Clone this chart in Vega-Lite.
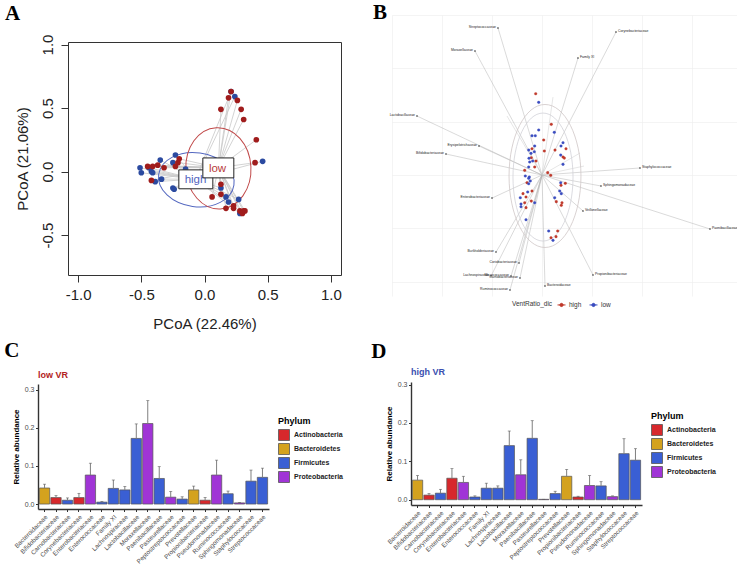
{
  "$schema": "https://vega.github.io/schema/vega-lite/v6.json",
  "padding": {"left": 3, "top": 0, "right": 0, "bottom": 0},
  "background": "white",
  "config": {"view": {"stroke": null}, "font": "Liberation Sans"},
  "datasets": {
    "pa": [
      {"x": 0.21, "y": 0.63, "grp": "high", "cx": -0.07, "cy": -0.06},
      {"x": 0.24, "y": 0.59, "grp": "high", "cx": -0.07, "cy": -0.06},
      {"x": 0.46, "y": 0.08, "grp": "high", "cx": -0.07, "cy": -0.06},
      {"x": -0.51, "y": 0.03, "grp": "high", "cx": -0.07, "cy": -0.06},
      {"x": -0.5, "y": -0.01, "grp": "high", "cx": -0.07, "cy": -0.06},
      {"x": -0.44, "y": 0.03, "grp": "high", "cx": -0.07, "cy": -0.06},
      {"x": -0.42, "y": 0.0, "grp": "high", "cx": -0.07, "cy": -0.06},
      {"x": -0.41, "y": -0.01, "grp": "high", "cx": -0.07, "cy": -0.06},
      {"x": -0.35, "y": 0.09, "grp": "high", "cx": -0.07, "cy": -0.06},
      {"x": -0.34, "y": -0.06, "grp": "high", "cx": -0.07, "cy": -0.06},
      {"x": -0.39, "y": -0.08, "grp": "high", "cx": -0.07, "cy": -0.06},
      {"x": -0.25, "y": 0.07, "grp": "high", "cx": -0.07, "cy": -0.06},
      {"x": -0.23, "y": 0.13, "grp": "high", "cx": -0.07, "cy": -0.06},
      {"x": -0.25, "y": -0.13, "grp": "high", "cx": -0.07, "cy": -0.06},
      {"x": -0.24, "y": -0.14, "grp": "high", "cx": -0.07, "cy": -0.06},
      {"x": 0.13, "y": -0.13, "grp": "high", "cx": -0.07, "cy": -0.06},
      {"x": 0.17, "y": -0.2, "grp": "high", "cx": -0.07, "cy": -0.06},
      {"x": 0.19, "y": -0.24, "grp": "high", "cx": -0.07, "cy": -0.06},
      {"x": 0.27, "y": -0.22, "grp": "high", "cx": -0.07, "cy": -0.06},
      {"x": 0.28, "y": -0.33, "grp": "high", "cx": -0.07, "cy": -0.06},
      {"x": -0.15, "y": 0.02, "grp": "high", "cx": -0.07, "cy": -0.06},
      {"x": 0.21, "y": 0.63, "grp": "low", "cx": 0.11, "cy": 0.03},
      {"x": 0.19, "y": 0.58, "grp": "low", "cx": 0.11, "cy": 0.03},
      {"x": 0.26, "y": 0.56, "grp": "low", "cx": 0.11, "cy": 0.03},
      {"x": 0.13, "y": 0.49, "grp": "low", "cx": 0.11, "cy": 0.03},
      {"x": 0.29, "y": 0.49, "grp": "low", "cx": 0.11, "cy": 0.03},
      {"x": 0.31, "y": 0.41, "grp": "low", "cx": 0.11, "cy": 0.03},
      {"x": 0.41, "y": 0.25, "grp": "low", "cx": 0.11, "cy": 0.03},
      {"x": 0.4, "y": 0.07, "grp": "low", "cx": 0.11, "cy": 0.03},
      {"x": -0.45, "y": 0.04, "grp": "low", "cx": 0.11, "cy": 0.03},
      {"x": -0.41, "y": 0.04, "grp": "low", "cx": 0.11, "cy": 0.03},
      {"x": -0.37, "y": 0.05, "grp": "low", "cx": 0.11, "cy": 0.03},
      {"x": -0.32, "y": 0.03, "grp": "low", "cx": 0.11, "cy": 0.03},
      {"x": -0.23, "y": 0.04, "grp": "low", "cx": 0.11, "cy": 0.03},
      {"x": -0.21, "y": 0.07, "grp": "low", "cx": 0.11, "cy": 0.03},
      {"x": -0.2, "y": 0.1, "grp": "low", "cx": 0.11, "cy": 0.03},
      {"x": -0.42, "y": -0.07, "grp": "low", "cx": 0.11, "cy": 0.03},
      {"x": 0.13, "y": -0.18, "grp": "low", "cx": 0.11, "cy": 0.03},
      {"x": 0.06, "y": -0.2, "grp": "low", "cx": 0.11, "cy": 0.03},
      {"x": 0.13, "y": -0.1, "grp": "low", "cx": 0.11, "cy": 0.03},
      {"x": 0.17, "y": -0.29, "grp": "low", "cx": 0.11, "cy": 0.03},
      {"x": 0.23, "y": -0.29, "grp": "low", "cx": 0.11, "cy": 0.03},
      {"x": 0.23, "y": -0.27, "grp": "low", "cx": 0.11, "cy": 0.03},
      {"x": 0.28, "y": -0.31, "grp": "low", "cx": 0.11, "cy": 0.03},
      {"x": 0.31, "y": -0.31, "grp": "low", "cx": 0.11, "cy": 0.03},
      {"x": 0.3, "y": -0.33, "grp": "low", "cx": 0.11, "cy": 0.03},
      {"x": 0.32, "y": -0.31, "grp": "low", "cx": 0.11, "cy": 0.03}
    ],
    "ea": [
      {"grp": "high", "x": -0.065, "y": -0.065},
      {"grp": "low", "x": 0.11, "y": 0.025}
    ],
    "boxa": [
      {"grp": "high", "x1": -0.203, "x2": 0.066, "y1": -0.136, "y2": 0.013, "tx": -0.071, "ty": -0.063, "lab": "high"},
      {"grp": "low", "x1": -0.013, "x2": 0.232, "y1": -0.05, "y2": 0.107, "tx": 0.103, "ty": 0.018, "lab": "low"}
    ],
    "arr": [
      {"name": "Streptococcaceae", "x": -0.44, "y": 1.378},
      {"name": "Moraxellaceae", "x": -0.67, "y": 1.162},
      {"name": "Corynebacteriaceae", "x": 0.74, "y": 1.34},
      {"name": "Family XI", "x": 0.36, "y": 1.097},
      {"name": "Lactobacillaceae", "x": -1.25, "y": 0.553},
      {"name": "Erysipelotrichaceae", "x": -0.63, "y": 0.272},
      {"name": "Bifidobacteriaceae", "x": -0.96, "y": 0.197},
      {"name": "Staphylococcaceae", "x": 0.98, "y": 0.066},
      {"name": "Sphingomonadaceae", "x": 0.59, "y": -0.103},
      {"name": "Enterobacteriaceae", "x": -0.5, "y": -0.216},
      {"name": "Veillonellaceae", "x": 0.41, "y": -0.337},
      {"name": "Paenibacillaceae", "x": 1.68, "y": -0.506},
      {"name": "Burkholderiaceae", "x": -0.46, "y": -0.722},
      {"name": "Coriobacteriaceae", "x": -0.23, "y": -0.825},
      {"name": "Propionibacteriaceae", "x": 0.51, "y": -0.937},
      {"name": "Lachnospiraceae", "x": -0.51, "y": -0.947},
      {"name": "Micrococcaceae", "x": -0.31, "y": -0.947},
      {"name": "Carnobacteriaceae", "x": -0.22, "y": -0.965},
      {"name": "Bacteroidaceae", "x": 0.03, "y": -1.04},
      {"name": "Ruminococcaceae", "x": -0.32, "y": -1.078}
    ],
    "ray": [
      {"x": 0.11, "y": 0.731},
      {"x": 0.38, "y": 0.206},
      {"x": 0.42, "y": 0.084},
      {"x": -0.35, "y": 0.553}
    ],
    "eb": [
      {"e": "1", "x": 0.03, "y": -0.009},
      {"e": "2", "x": 0.01, "y": -0.019}
    ],
    "pb": [
      {"x": -0.063, "y": 0.762, "grp": "high"}, {"x": 0.093, "y": 0.475, "grp": "high"},
      {"x": 0.017, "y": 0.328, "grp": "high"}, {"x": 0.24, "y": 0.246, "grp": "high"},
      {"x": -0.1, "y": 0.246, "grp": "high"}, {"x": 0.023, "y": 0.225, "grp": "high"},
      {"x": 0.13, "y": 0.234, "grp": "high"}, {"x": 0.21, "y": 0.169, "grp": "high"},
      {"x": 0.223, "y": 0.159, "grp": "high"}, {"x": -0.107, "y": 0.162, "grp": "high"},
      {"x": -0.06, "y": 0.131, "grp": "high"}, {"x": -0.073, "y": 0.075, "grp": "high"},
      {"x": -0.173, "y": 0.044, "grp": "high"}, {"x": 0.057, "y": 0.022, "grp": "high"},
      {"x": 0.087, "y": -0.003, "grp": "high"}, {"x": -0.15, "y": -0.072, "grp": "high"},
      {"x": 0.233, "y": -0.078, "grp": "high"}, {"x": 0.19, "y": -0.097, "grp": "high"},
      {"x": -0.19, "y": -0.175, "grp": "high"}, {"x": -0.16, "y": -0.206, "grp": "high"},
      {"x": -0.173, "y": -0.26, "grp": "high"}, {"x": 0.143, "y": -0.25, "grp": "high"},
      {"x": -0.107, "y": -0.244, "grp": "high"}, {"x": 0.2, "y": -0.26, "grp": "high"},
      {"x": -0.16, "y": -0.306, "grp": "high"}, {"x": 0.193, "y": -0.284, "grp": "high"},
      {"x": 0.157, "y": -0.525, "grp": "high"}, {"x": 0.09, "y": -0.588, "grp": "high"},
      {"x": 0.14, "y": -0.578, "grp": "high"}, {"x": -0.1, "y": -0.15, "grp": "high"},
      {"x": -0.033, "y": 0.681, "grp": "low"}, {"x": 0.123, "y": 0.4, "grp": "low"},
      {"x": -0.033, "y": 0.422, "grp": "low"}, {"x": -0.1, "y": 0.368, "grp": "low"},
      {"x": -0.067, "y": 0.368, "grp": "low"}, {"x": 0.21, "y": 0.303, "grp": "low"},
      {"x": 0.19, "y": 0.272, "grp": "low"}, {"x": -0.133, "y": 0.234, "grp": "low"},
      {"x": -0.073, "y": 0.272, "grp": "low"}, {"x": -0.077, "y": 0.218, "grp": "low"},
      {"x": -0.11, "y": 0.203, "grp": "low"}, {"x": 0.187, "y": 0.187, "grp": "low"},
      {"x": -0.13, "y": 0.157, "grp": "low"}, {"x": 0.21, "y": 0.1, "grp": "low"},
      {"x": -0.093, "y": 0.131, "grp": "low"}, {"x": -0.123, "y": 0.122, "grp": "low"},
      {"x": -0.133, "y": 0.075, "grp": "low"}, {"x": -0.167, "y": -0.009, "grp": "low"},
      {"x": -0.127, "y": -0.019, "grp": "low"}, {"x": -0.133, "y": -0.031, "grp": "low"},
      {"x": -0.117, "y": -0.056, "grp": "low"}, {"x": -0.133, "y": -0.082, "grp": "low"},
      {"x": 0.187, "y": -0.072, "grp": "low"}, {"x": -0.143, "y": -0.159, "grp": "low"},
      {"x": 0.177, "y": -0.15, "grp": "low"}, {"x": 0.193, "y": -0.175, "grp": "low"},
      {"x": -0.217, "y": -0.213, "grp": "low"}, {"x": -0.21, "y": -0.272, "grp": "low"},
      {"x": 0.127, "y": -0.213, "grp": "low"}, {"x": -0.073, "y": -0.26, "grp": "low"},
      {"x": -0.21, "y": -0.297, "grp": "low"}, {"x": -0.16, "y": -0.419, "grp": "low"},
      {"x": 0.067, "y": -0.525, "grp": "low"}, {"x": 0.11, "y": -0.612, "grp": "low"}
    ],
    "low": [
      {"family": "Bacteroidaceae", "phylum": "Bacteroidetes", "mean": 0.042, "upper": 0.052},
      {"family": "Bifidobacteriaceae", "phylum": "Actinobacteria", "mean": 0.017, "upper": 0.022},
      {"family": "Carnobacteriaceae", "phylum": "Firmicutes", "mean": 0.01, "upper": 0.016},
      {"family": "Corynebacteriaceae", "phylum": "Actinobacteria", "mean": 0.017, "upper": 0.028},
      {"family": "Enterobacteriaceae", "phylum": "Proteobacteria", "mean": 0.076, "upper": 0.107},
      {"family": "Enterococcaceae", "phylum": "Firmicutes", "mean": 0.005, "upper": 0.007},
      {"family": "Family XI", "phylum": "Firmicutes", "mean": 0.041, "upper": 0.063},
      {"family": "Lachnospiraceae", "phylum": "Firmicutes", "mean": 0.037, "upper": 0.046},
      {"family": "Lactobacillaceae", "phylum": "Firmicutes", "mean": 0.172, "upper": 0.21},
      {"family": "Moraxellaceae", "phylum": "Proteobacteria", "mean": 0.211, "upper": 0.271},
      {"family": "Paenibacillaceae", "phylum": "Firmicutes", "mean": 0.067, "upper": 0.098},
      {"family": "Pasteurellaceae", "phylum": "Proteobacteria", "mean": 0.018, "upper": 0.033},
      {"family": "Peptostreptococcaceae", "phylum": "Firmicutes", "mean": 0.013, "upper": 0.019},
      {"family": "Prevotellaceae", "phylum": "Bacteroidetes", "mean": 0.037, "upper": 0.047},
      {"family": "Propionibacteriaceae", "phylum": "Actinobacteria", "mean": 0.01, "upper": 0.017},
      {"family": "Pseudomonadaceae", "phylum": "Proteobacteria", "mean": 0.076, "upper": 0.115},
      {"family": "Ruminococcaceae", "phylum": "Firmicutes", "mean": 0.027, "upper": 0.034},
      {"family": "Sphingomonadaceae", "phylum": "Proteobacteria", "mean": 0.003, "upper": 0.004},
      {"family": "Staphylococcaceae", "phylum": "Firmicutes", "mean": 0.06, "upper": 0.089},
      {"family": "Streptococcaceae", "phylum": "Firmicutes", "mean": 0.07, "upper": 0.094}
    ],
    "high": [
      {"family": "Bacteroidaceae", "phylum": "Bacteroidetes", "mean": 0.051, "upper": 0.063},
      {"family": "Bifidobacteriaceae", "phylum": "Actinobacteria", "mean": 0.012, "upper": 0.016},
      {"family": "Carnobacteriaceae", "phylum": "Firmicutes", "mean": 0.017, "upper": 0.027},
      {"family": "Corynebacteriaceae", "phylum": "Actinobacteria", "mean": 0.056, "upper": 0.081},
      {"family": "Enterobacteriaceae", "phylum": "Proteobacteria", "mean": 0.045, "upper": 0.061},
      {"family": "Enterococcaceae", "phylum": "Firmicutes", "mean": 0.007, "upper": 0.01},
      {"family": "Family XI", "phylum": "Firmicutes", "mean": 0.03, "upper": 0.043},
      {"family": "Lachnospiraceae", "phylum": "Firmicutes", "mean": 0.03, "upper": 0.036},
      {"family": "Lactobacillaceae", "phylum": "Firmicutes", "mean": 0.141, "upper": 0.179},
      {"family": "Moraxellaceae", "phylum": "Proteobacteria", "mean": 0.065, "upper": 0.104},
      {"family": "Paenibacillaceae", "phylum": "Firmicutes", "mean": 0.16, "upper": 0.206},
      {"family": "Pasteurellaceae", "phylum": "Proteobacteria", "mean": 0.001, "upper": 0.001},
      {"family": "Peptostreptococcaceae", "phylum": "Firmicutes", "mean": 0.016, "upper": 0.022},
      {"family": "Prevotellaceae", "phylum": "Bacteroidetes", "mean": 0.061, "upper": 0.079},
      {"family": "Propionibacteriaceae", "phylum": "Actinobacteria", "mean": 0.007, "upper": 0.009},
      {"family": "Pseudomonadaceae", "phylum": "Proteobacteria", "mean": 0.037, "upper": 0.063},
      {"family": "Ruminococcaceae", "phylum": "Firmicutes", "mean": 0.036, "upper": 0.047},
      {"family": "Sphingomonadaceae", "phylum": "Proteobacteria", "mean": 0.008, "upper": 0.01},
      {"family": "Staphylococcaceae", "phylum": "Firmicutes", "mean": 0.12, "upper": 0.159},
      {"family": "Streptococcaceae", "phylum": "Firmicutes", "mean": 0.103, "upper": 0.133}
    ]
  },
  "columns": 2,
  "align": "none",
  "bounds": "full",
  "spacing": 0,
  "resolve": {
    "scale": {"color": "independent", "fill": "independent", "stroke": "independent", "x": "independent", "y": "independent"},
    "legend": {"color": "independent", "fill": "independent", "stroke": "independent"}
  },
  "concat": [
    {"width": 1, "height": 1, "data": {"values": []}, "mark": {"type": "point", "opacity": 0}, "encoding": {}},
    {"width": 1, "height": 1, "data": {"values": []}, "mark": {"type": "point", "opacity": 0}, "encoding": {}},
    {"width": 1, "height": 1, "data": {"values": []}, "mark": {"type": "point", "opacity": 0}, "encoding": {}},
    {
      "columns": 2,
      "align": "none",
      "bounds": "full",
      "spacing": {"row": 0, "column": 31},
      "resolve": {
        "scale": {"color": "independent", "fill": "independent", "stroke": "independent", "x": "independent", "y": "independent"},
        "legend": {"color": "independent", "fill": "independent", "stroke": "independent"}
      },
      "concat": [
        {"width": 1, "height": 1, "data": {"values": []}, "mark": {"type": "point", "opacity": 0}, "encoding": {}},
        {"width": 1, "height": 1, "data": {"values": []}, "mark": {"type": "point", "opacity": 0}, "encoding": {}},
        {
          "width": 273, "height": 233,
          "view": {"stroke": "#333", "strokeWidth": 1},
          "title": {"text": "A", "anchor": "start", "frame": "group", "dx": -63, "offset": 10, "font": "Liberation Serif", "fontSize": 21, "fontWeight": "bold", "color": "#000"},
          "layer": [
            {
              "data": {"name": "pa"},
              "mark": {"type": "rule", "color": "#c8c8c8", "strokeWidth": 0.8},
              "encoding": {
                "x": {"field": "x", "type": "quantitative", "scale": {"domain": [-1.08, 1.08], "nice": false, "zero": false},
                      "axis": {"values": [-1, -0.5, 0, 0.5, 1], "labelExpr": "replace(format(datum.value,'.1f'),'\u2212','-')", "grid": false, "domain": false, "tickSize": 7, "tickColor": "#333", "tickWidth": 1, "labelFont": "Liberation Sans", "labelFontSize": 15, "labelColor": "#222", "labelPadding": 5, "title": "PCoA (22.46%)", "titleFont": "Liberation Sans", "titleFontSize": 15, "titleFontWeight": "normal", "titleColor": "#222", "titlePadding": 14}},
                "y": {"field": "y", "type": "quantitative", "scale": {"domain": [-0.815, 1.02], "nice": false, "zero": false},
                      "axis": {"values": [-0.5, 0, 0.5, 1], "labelExpr": "replace(format(datum.value,'.1f'),'\u2212','-')", "labelAngle": 270, "grid": false, "domain": false, "tickSize": 7, "tickColor": "#333", "tickWidth": 1, "labelFont": "Liberation Sans", "labelFontSize": 15, "labelColor": "#222", "labelPadding": 6, "title": "PCoA (21.06%)", "titleFont": "Liberation Sans", "titleFontSize": 15, "titleFontWeight": "normal", "titleColor": "#222", "titlePadding": 10}},
                "x2": {"field": "cx"},
                "y2": {"field": "cy"}
              }
            },
            {
              "data": {"name": "ea"},
              "transform": [{"filter": "datum.grp == 'high'"}],
              "mark": {"type": "point", "shape": "M1 0 C1 0.392 0.552 0.71 0 0.71 C-0.552 0.71 -1 0.392 -1 0 C-1 -0.392 -0.552 -0.71 0 -0.71 C0.552 -0.71 1 -0.392 1 0 Z", "size": 5776, "angle": 8, "filled": false, "stroke": "#5468C0", "strokeWidth": 1, "opacity": 1},
              "encoding": {
                "x": {"field": "x", "type": "quantitative", "scale": {"domain": [-1.08, 1.08], "nice": false, "zero": false}},
                "y": {"field": "y", "type": "quantitative", "scale": {"domain": [-0.815, 1.02], "nice": false, "zero": false}}
              }
            },
            {
              "data": {"name": "ea"},
              "transform": [{"filter": "datum.grp == 'low'"}],
              "mark": {"type": "point", "shape": "M0.8 0 C0.8 0.552 0.442 1 0 1 C-0.442 1 -0.8 0.552 -0.8 0 C-0.8 -0.552 -0.442 -1 0 -1 C0.442 -1 0.8 -0.552 0.8 0 Z", "size": 6626, "angle": -3, "filled": false, "stroke": "#C04848", "strokeWidth": 1, "opacity": 1},
              "encoding": {
                "x": {"field": "x", "type": "quantitative", "scale": {"domain": [-1.08, 1.08], "nice": false, "zero": false}},
                "y": {"field": "y", "type": "quantitative", "scale": {"domain": [-0.815, 1.02], "nice": false, "zero": false}}
              }
            },
            {
              "data": {"name": "pa"},
              "mark": {"type": "point", "filled": true, "size": 32, "opacity": 1},
              "encoding": {
                "x": {"field": "x", "type": "quantitative", "scale": {"domain": [-1.08, 1.08], "nice": false, "zero": false}},
                "y": {"field": "y", "type": "quantitative", "scale": {"domain": [-0.815, 1.02], "nice": false, "zero": false}},
                "color": {"field": "grp", "type": "nominal", "scale": {"domain": ["high", "low"], "range": ["#2B4AA0", "#A01C1C"]}, "legend": null}
              }
            },
            {
              "data": {"name": "boxa"},
              "transform": [{"filter": "datum.grp == 'high'"}],
              "mark": {"type": "rect", "fill": "white", "stroke": "#222", "strokeWidth": 1},
              "encoding": {
                "x": {"field": "x1", "type": "quantitative", "scale": {"domain": [-1.08, 1.08], "nice": false, "zero": false}},
                "x2": {"field": "x2"},
                "y": {"field": "y1", "type": "quantitative", "scale": {"domain": [-0.815, 1.02], "nice": false, "zero": false}},
                "y2": {"field": "y2"}
              }
            },
            {
              "data": {"name": "boxa"},
              "transform": [{"filter": "datum.grp == 'high'"}],
              "mark": {"type": "text", "font": "Liberation Sans", "fontSize": 11.5, "color": "#5264BE"},
              "encoding": {
                "x": {"field": "tx", "type": "quantitative", "scale": {"domain": [-1.08, 1.08], "nice": false, "zero": false}},
                "y": {"field": "ty", "type": "quantitative", "scale": {"domain": [-0.815, 1.02], "nice": false, "zero": false}},
                "text": {"field": "lab"}
              }
            },
            {
              "data": {"name": "boxa"},
              "transform": [{"filter": "datum.grp == 'low'"}],
              "mark": {"type": "rect", "fill": "white", "stroke": "#222", "strokeWidth": 1},
              "encoding": {
                "x": {"field": "x1", "type": "quantitative", "scale": {"domain": [-1.08, 1.08], "nice": false, "zero": false}},
                "x2": {"field": "x2"},
                "y": {"field": "y1", "type": "quantitative", "scale": {"domain": [-0.815, 1.02], "nice": false, "zero": false}},
                "y2": {"field": "y2"}
              }
            },
            {
              "data": {"name": "boxa"},
              "transform": [{"filter": "datum.grp == 'low'"}],
              "mark": {"type": "text", "font": "Liberation Sans", "fontSize": 11.5, "color": "#B83A3A"},
              "encoding": {
                "x": {"field": "tx", "type": "quantitative", "scale": {"domain": [-1.08, 1.08], "nice": false, "zero": false}},
                "y": {"field": "ty", "type": "quantitative", "scale": {"domain": [-0.815, 1.02], "nice": false, "zero": false}},
                "text": {"field": "lab"}
              }
            }
          ]
        },
        {
          "width": 347, "height": 281,
          "title": {"text": "B", "anchor": "start", "frame": "group", "dx": -19, "offset": -8, "font": "Liberation Serif", "fontSize": 21, "fontWeight": "bold", "color": "#000"},
          "layer": [
            {
              "data": {"name": "arr"},
              "mark": {"type": "rule", "color": "#b5b5b5", "strokeWidth": 0.5},
              "encoding": {
                "x": {"field": "x", "type": "quantitative", "scale": {"domain": [-1.5, 1.97], "nice": false, "zero": false},
                      "axis": {"values": [-1.5, -1, -0.5, 0, 0.5, 1, 1.5], "grid": true, "gridColor": "#ececec", "gridWidth": 0.6, "labels": false, "ticks": false, "domain": false, "title": null}},
                "y": {"field": "y", "type": "quantitative", "scale": {"domain": [-1.134, 1.5], "nice": false, "zero": false},
                      "axis": {"values": [-1, -0.5, 0, 0.5, 1, 1.5], "grid": true, "gridColor": "#ececec", "gridWidth": 0.6, "labels": false, "ticks": false, "domain": false, "title": null}},
                "x2": {"datum": 0},
                "y2": {"datum": 0}
              }
            },
            {
              "data": {"name": "ray"},
              "mark": {"type": "rule", "color": "#cccccc", "strokeWidth": 0.5},
              "encoding": {
                "x": {"field": "x", "type": "quantitative", "scale": {"domain": [-1.5, 1.97], "nice": false, "zero": false}},
                "y": {"field": "y", "type": "quantitative", "scale": {"domain": [-1.134, 1.5], "nice": false, "zero": false}},
                "x2": {"datum": 0},
                "y2": {"datum": 0}
              }
            },
            {
              "data": {"name": "eb"},
              "transform": [{"filter": "datum.e == '1'"}],
              "mark": {"type": "point", "shape": "M0.503 0 C0.503 0.552 0.278 1 0 1 C-0.278 1 -0.503 0.552 -0.503 0 C-0.503 -0.552 -0.278 -1 0 -1 C0.278 -1 0.503 -0.552 0.503 0 Z", "size": 20449, "filled": false, "stroke": "#cfc6c6", "strokeWidth": 0.8, "opacity": 1},
              "encoding": {
                "x": {"field": "x", "type": "quantitative", "scale": {"domain": [-1.5, 1.97], "nice": false, "zero": false}},
                "y": {"field": "y", "type": "quantitative", "scale": {"domain": [-1.134, 1.5], "nice": false, "zero": false}}
              }
            },
            {
              "data": {"name": "eb"},
              "transform": [{"filter": "datum.e == '2'"}],
              "mark": {"type": "point", "shape": "M0.469 0 C0.469 0.552 0.259 1 0 1 C-0.259 1 -0.469 0.552 -0.469 0 C-0.469 -0.552 -0.259 -1 0 -1 C0.259 -1 0.469 -0.552 0.469 0 Z", "size": 16384, "filled": false, "stroke": "#d2d2d8", "strokeWidth": 0.8, "opacity": 1},
              "encoding": {
                "x": {"field": "x", "type": "quantitative", "scale": {"domain": [-1.5, 1.97], "nice": false, "zero": false}},
                "y": {"field": "y", "type": "quantitative", "scale": {"domain": [-1.134, 1.5], "nice": false, "zero": false}}
              }
            },
            {
              "data": {"name": "arr"},
              "mark": {"type": "point", "filled": true, "size": 2.5, "color": "#222", "opacity": 1},
              "encoding": {
                "x": {"field": "x", "type": "quantitative", "scale": {"domain": [-1.5, 1.97], "nice": false, "zero": false}},
                "y": {"field": "y", "type": "quantitative", "scale": {"domain": [-1.134, 1.5], "nice": false, "zero": false}}
              }
            },
            {
              "data": {"name": "arr"},
              "transform": [{"filter": "datum.x < 0"}],
              "mark": {"type": "text", "align": "right", "baseline": "middle", "dx": -2, "dy": -1, "font": "Liberation Sans", "fontSize": 3.4, "color": "#222"},
              "encoding": {
                "x": {"field": "x", "type": "quantitative", "scale": {"domain": [-1.5, 1.97], "nice": false, "zero": false}},
                "y": {"field": "y", "type": "quantitative", "scale": {"domain": [-1.134, 1.5], "nice": false, "zero": false}},
                "text": {"field": "name"}
              }
            },
            {
              "data": {"name": "arr"},
              "transform": [{"filter": "datum.x >= 0"}],
              "mark": {"type": "text", "align": "left", "baseline": "middle", "dx": 2, "dy": -1, "font": "Liberation Sans", "fontSize": 3.4, "color": "#222"},
              "encoding": {
                "x": {"field": "x", "type": "quantitative", "scale": {"domain": [-1.5, 1.97], "nice": false, "zero": false}},
                "y": {"field": "y", "type": "quantitative", "scale": {"domain": [-1.134, 1.5], "nice": false, "zero": false}},
                "text": {"field": "name"}
              }
            },
            {
              "data": {"name": "pb"},
              "mark": {"type": "point", "filled": true, "size": 7, "strokeWidth": 0.3, "opacity": 1},
              "encoding": {
                "x": {"field": "x", "type": "quantitative", "scale": {"domain": [-1.5, 1.97], "nice": false, "zero": false}},
                "y": {"field": "y", "type": "quantitative", "scale": {"domain": [-1.134, 1.5], "nice": false, "zero": false}},
                "fill": {"field": "grp", "type": "nominal", "scale": {"domain": ["high", "low"], "range": ["#C0392B", "#3A4CC0"]},
                         "legend": {"orient": "none", "legendX": 120, "legendY": 285, "direction": "horizontal", "title": "VentRatio_dic", "titleOrient": "left", "titleFontSize": 6.5, "titleFontWeight": "normal", "titleColor": "#333", "titleFont": "Liberation Sans", "titlePadding": 4, "labelFontSize": 6.5, "labelColor": "#333", "labelFont": "Liberation Sans", "symbolType": "M-1 0 L1 0 M0.4 0 C0.4 0.22 0.22 0.4 0 0.4 C-0.22 0.4 -0.4 0.22 -0.4 0 C-0.4 -0.22 -0.22 -0.4 0 -0.4 C0.22 -0.4 0.4 -0.22 0.4 0 Z", "symbolSize": 64, "symbolStrokeWidth": 1, "columnPadding": 5, "labelOffset": 3}},
                "stroke": {"field": "grp", "type": "nominal", "scale": {"domain": ["high", "low"], "range": ["#C0392B", "#3A4CC0"]},
                         "legend": {"orient": "none", "legendX": 120, "legendY": 285, "direction": "horizontal", "title": "VentRatio_dic", "titleOrient": "left", "titleFontSize": 6.5, "titleFontWeight": "normal", "titleColor": "#333", "titleFont": "Liberation Sans", "titlePadding": 4, "labelFontSize": 6.5, "labelColor": "#333", "labelFont": "Liberation Sans", "symbolType": "M-1 0 L1 0 M0.4 0 C0.4 0.22 0.22 0.4 0 0.4 C-0.22 0.4 -0.4 0.22 -0.4 0 C-0.4 -0.22 -0.22 -0.4 0 -0.4 C0.22 -0.4 0.4 -0.22 0.4 0 Z", "symbolSize": 64, "symbolStrokeWidth": 1, "columnPadding": 5, "labelOffset": 3}}
              }
            }
          ]
        }
      ]
    },
    {"width": 1, "height": 1, "data": {"values": []}, "mark": {"type": "point", "opacity": 0}, "encoding": {}},
    {
      "columns": 2,
      "align": "none",
      "bounds": "full",
      "spacing": {"row": 0, "column": 27},
      "resolve": {
        "scale": {"color": "independent", "fill": "independent", "stroke": "independent", "x": "independent", "y": "independent"},
        "legend": {"color": "independent", "fill": "independent", "stroke": "independent"}
      },
      "concat": [
        {"width": 1, "height": 8, "data": {"values": []}, "mark": {"type": "point", "opacity": 0}, "encoding": {}},
        {"width": 1, "height": 8, "data": {"values": []}, "mark": {"type": "point", "opacity": 0}, "encoding": {}},
        {
          "title": {"text": "C", "anchor": "start", "frame": "bounds", "dx": -8, "offset": 10, "font": "Liberation Serif", "fontSize": 21, "fontWeight": "bold", "color": "#000"},
          "vconcat": [
            {
              "width": 231, "height": 125,
              "data": {"name": "low"},
              "title": {"text": "low VR", "anchor": "start", "frame": "group", "offset": 4, "font": "Liberation Sans", "fontSize": 9, "fontWeight": "bold", "color": "#B22222"},
              "layer": [
                {
                  "mark": {"type": "bar", "stroke": "#555", "strokeWidth": 0.7},
                  "encoding": {
                    "x": {"field": "family", "type": "nominal", "sort": null, "scale": {"paddingInner": 0.1, "paddingOuter": 0.12},
                          "axis": {"labelAngle": -45, "labelFont": "Liberation Sans", "labelFontSize": 6.3, "labelColor": "#4d4d4d", "labelPadding": 2, "tickSize": 2.5, "tickColor": "#333", "domainColor": "#333", "domainWidth": 1.4, "title": null, "labelOverlap": false}},
                    "y": {"field": "mean", "type": "quantitative", "scale": {"domain": [-0.013, 0.3146], "nice": false, "zero": false},
                          "axis": {"values": [0, 0.1, 0.2, 0.3], "format": ".1f", "labelFont": "Liberation Sans", "labelFontSize": 7, "labelColor": "#4d4d4d", "labelPadding": 1.5, "tickSize": 2.5, "tickColor": "#333", "domainColor": "#333", "domainWidth": 1.4, "grid": false, "title": "Relative abundance", "titleFont": "Liberation Sans", "titleFontSize": 8, "titleFontWeight": "bold", "titleColor": "#000", "titlePadding": 4}},
                    "fill": {"field": "phylum", "type": "nominal",
                             "scale": {"domain": ["Actinobacteria", "Bacteroidetes", "Firmicutes", "Proteobacteria"], "range": ["#D7282C", "#D4A21E", "#3A5FD4", "#A034D6"]},
                             "legend": {"title": "Phylum", "orient": "none", "legendX": 240, "legendY": 33, "titleFont": "Liberation Sans", "titleFontSize": 9, "titleFontWeight": "bold", "titleColor": "#000", "titlePadding": 3, "labelFont": "Liberation Sans", "labelFontSize": 7, "labelFontWeight": "bold", "labelColor": "#222", "symbolType": "square", "symbolSize": 121, "symbolStrokeColor": "#555", "symbolStrokeWidth": 0.8, "symbolOpacity": 1, "rowPadding": -4.5, "labelOffset": 4}}
                  }
                },
                {
                  "mark": {"type": "rule", "color": "#7f7f7f", "strokeWidth": 1},
                  "encoding": {
                    "x": {"field": "family", "type": "nominal", "sort": null},
                    "y": {"field": "mean", "type": "quantitative", "scale": {"domain": [-0.013, 0.3146], "nice": false, "zero": false}},
                    "y2": {"field": "upper"}
                  }
                },
                {
                  "mark": {"type": "tick", "color": "#555", "thickness": 0.8, "size": 3},
                  "encoding": {
                    "x": {"field": "family", "type": "nominal", "sort": null},
                    "y": {"field": "upper", "type": "quantitative", "scale": {"domain": [-0.013, 0.3146], "nice": false, "zero": false}}
                  }
                }
              ]
            }
          ]
        },
        {
          "title": {"text": "D", "anchor": "start", "frame": "bounds", "dx": -14, "offset": 6, "font": "Liberation Serif", "fontSize": 21, "fontWeight": "bold", "color": "#000"},
          "vconcat": [
            {
              "width": 231, "height": 123,
              "data": {"name": "high"},
              "title": {"text": "high VR", "anchor": "start", "frame": "group", "offset": 4, "font": "Liberation Sans", "fontSize": 9, "fontWeight": "bold", "color": "#3A4FB0"},
              "layer": [
                {
                  "mark": {"type": "bar", "stroke": "#555", "strokeWidth": 0.7},
                  "encoding": {
                    "x": {"field": "family", "type": "nominal", "sort": null, "scale": {"paddingInner": 0.1, "paddingOuter": 0.12},
                          "axis": {"labelAngle": -45, "labelFont": "Liberation Sans", "labelFontSize": 6.3, "labelColor": "#4d4d4d", "labelPadding": 2, "tickSize": 2.5, "tickColor": "#333", "domainColor": "#333", "domainWidth": 1.4, "title": null, "labelOverlap": false}},
                    "y": {"field": "mean", "type": "quantitative", "scale": {"domain": [-0.0138, 0.3068], "nice": false, "zero": false},
                          "axis": {"values": [0, 0.1, 0.2, 0.3], "format": ".1f", "labelFont": "Liberation Sans", "labelFontSize": 7, "labelColor": "#4d4d4d", "labelPadding": 1.5, "tickSize": 2.5, "tickColor": "#333", "domainColor": "#333", "domainWidth": 1.4, "grid": false, "title": "Relative abundance", "titleFont": "Liberation Sans", "titleFontSize": 8, "titleFontWeight": "bold", "titleColor": "#000", "titlePadding": 4}},
                    "fill": {"field": "phylum", "type": "nominal",
                             "scale": {"domain": ["Actinobacteria", "Bacteroidetes", "Firmicutes", "Proteobacteria"], "range": ["#D7282C", "#D4A21E", "#3A5FD4", "#A034D6"]},
                             "legend": {"title": "Phylum", "orient": "none", "legendX": 240, "legendY": 30, "titleFont": "Liberation Sans", "titleFontSize": 9, "titleFontWeight": "bold", "titleColor": "#000", "titlePadding": 3, "labelFont": "Liberation Sans", "labelFontSize": 7, "labelFontWeight": "bold", "labelColor": "#222", "symbolType": "square", "symbolSize": 121, "symbolStrokeColor": "#555", "symbolStrokeWidth": 0.8, "symbolOpacity": 1, "rowPadding": -4.5, "labelOffset": 4}}
                  }
                },
                {
                  "mark": {"type": "rule", "color": "#7f7f7f", "strokeWidth": 1},
                  "encoding": {
                    "x": {"field": "family", "type": "nominal", "sort": null},
                    "y": {"field": "mean", "type": "quantitative", "scale": {"domain": [-0.0138, 0.3068], "nice": false, "zero": false}},
                    "y2": {"field": "upper"}
                  }
                },
                {
                  "mark": {"type": "tick", "color": "#555", "thickness": 0.8, "size": 3},
                  "encoding": {
                    "x": {"field": "family", "type": "nominal", "sort": null},
                    "y": {"field": "upper", "type": "quantitative", "scale": {"domain": [-0.0138, 0.3068], "nice": false, "zero": false}}
                  }
                }
              ]
            }
          ]
        }
      ]
    }
  ]
}
